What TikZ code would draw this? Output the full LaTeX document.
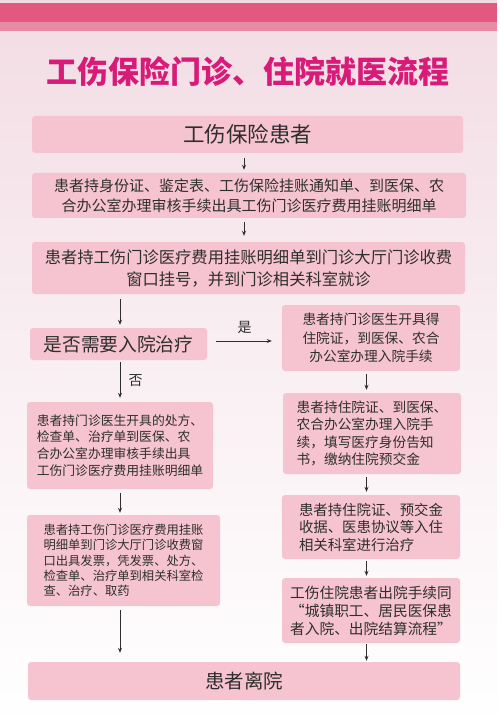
\documentclass[tikz,border=0pt]{standalone}
\usepackage{xcolor}
\usepackage{fontspec}
\setmainfont{Noto Sans CJK SC}
\usepackage{tikz}
\usetikzlibrary{arrows.meta}

\definecolor{rosacaja}{HTML}{F6C4D0}
\definecolor{rosafondo}{HTML}{F2DCE3}
\definecolor{rosabanda}{HTML}{E2587F}
\definecolor{rosaclaro}{HTML}{EA8BA5}
\definecolor{titulo}{HTML}{D81A78}
\definecolor{texto}{HTML}{2E2E2E}

\newcommand{\tam}[2]{\fontsize{#1}{#2}\selectfont}

\begin{document}
\begin{tikzpicture}[x=1pt, y=-1pt,
    caja/.style = {rectangle, rounded corners=3pt, fill=rosacaja, text=texto, inner sep=0pt, align=center},
    flecha/.style = {draw=texto, line width=0.8pt, -{Stealth[length=5pt, width=4pt]}},
    etiqueta/.style = {text=texto, font=\tam{14}{16}}]
            \useasboundingbox (0,0) rectangle (500,727);
            % Fondo
            \fill[white] (0,0) rectangle (500,727);
            \shade[top color=rosafondo, bottom color=white, middle color=rosafondo!45] (0,0) rectangle (497,727);
            \fill[rosabanda] (0,3) rectangle (497,22);
            \fill[rosaclaro] (0,22) rectangle (497,31);
            % Titulo
            \node[text=titulo, font=\tam{31}{34}\bfseries] (tit) at (248,72) {工伤保险门诊、住院就医流程};
            % Columnas de las flechas
            \coordinate (colc) at (244,0);
            \coordinate (coli) at (120,0);
            \coordinate (cold) at (366.5,0);
            % Cajas centrales
            \node[caja, minimum width=431, minimum height=37, font=\tam{21.5}{24}] (pac) at (247.5,134.5) {工伤保险患者};
            \node[caja, minimum width=434, minimum height=45, font=\tam{15}{20}] (cert) at (249,195.5)
                {患者持身份证、鉴定表、工伤保险挂账通知单、到医保、农\\合办公室办理审核手续出具工伤门诊医疗费用挂账明细单};
            \node[caja, minimum width=433, minimum height=52, font=\tam{16.3}{22}] (reg) at (248.5,268)
                {患者持工伤门诊医疗费用挂账明细单到门诊大厅门诊收费\\窗口挂号，并到门诊相关科室就诊};
            % Decision
            \node[caja, minimum width=177, minimum height=32, font=\tam{18.7}{22}] (dec) at (118.5,344) {是否需要入院治疗};
            % Rama izquierda
            \node[caja, minimum width=186, minimum height=87, font=\tam{12.8}{16.8}, align=left] (izq1) at (120,445.5)
                {患者持门诊医生开具的处方、\\检查单、治疗单到医保、农\\合办公室办理审核手续出具\\工伤门诊医疗费用挂账明细单};
            \node[caja, minimum width=193, minimum height=91, font=\tam{12.3}{15.3}, align=left] (izq2) at (123.5,560.5)
                {患者持工伤门诊医疗费用挂账\\明细单到门诊大厅门诊收费窗\\口出具发票，凭发票、处方、\\检查单、治疗单到相关科室检\\查、治疗、取药};
            % Rama derecha
            \node[caja, minimum width=178, minimum height=66, font=\tam{13.7}{18.3}] (der1) at (371,338)
                {患者持门诊医生开具得\\住院证，到医保、农合\\办公室办理入院手续};
            \node[caja, minimum width=178, minimum height=81, font=\tam{13.7}{17.4}, align=left] (der2) at (372,433.5)
                {患者持住院证、到医保、\\农合办公室办理入院手\\续，填写医疗身份告知\\书，缴纳住院预交金};
            \node[caja, minimum width=178, minimum height=64, font=\tam{14.4}{17.5}, align=left] (der3) at (371,527)
                {患者持住院证、预交金\\收据、医患协议等入住\\相关科室进行治疗};
            \node[caja, minimum width=178, minimum height=65, font=\tam{14.7}{18}] (der4) at (371,610.5)
                {工伤住院患者出院手续同\\“城镇职工、居民医保患\\者入院、出院结算流程”};
            % Final
            \node[caja, minimum width=432, minimum height=38, font=\tam{19.5}{22}] (fin) at (244,681) {患者离院};
            % Flechas
            \draw[flecha, shorten <=5pt, shorten >=3pt] (pac.south -| colc) -- (cert.north -| colc);
            \draw[flecha, shorten <=4pt, shorten >=6pt] (cert.south -| colc) -- (reg.north -| colc);
            \draw[flecha, shorten <=5pt, shorten >=3pt] (reg.south -| coli) -- (dec.north -| coli);
            \draw[flecha, shorten <=2pt, shorten >=4pt] (dec.south -| coli) -- node[etiqueta, right=5pt] (no) {否} (izq1.north -| coli);
            \draw[flecha, shorten <=4pt, shorten >=2pt] (izq1.south -| coli) -- (izq2.north -| coli);
            \draw[flecha, shorten <=4pt, shorten >=9pt] (izq2.south -| coli) -- (fin.north -| coli);
            \draw[flecha, shorten <=9pt, shorten >=10pt] ([yshift=3pt]dec.east) -- node[etiqueta, above=4pt] (si) {是} ([yshift=3pt]dec.east -| der1.west);
            \draw[flecha, shorten <=3pt, shorten >=3pt] (der1.south -| cold) -- (der2.north -| cold);
            \draw[flecha, shorten <=3pt, shorten >=3pt] (der2.south -| cold) -- (der3.north -| cold);
            \draw[flecha, shorten <=2pt, shorten >=2pt] (der3.south -| cold) -- (der4.north -| cold);
            \draw[flecha, shorten <=1pt, shorten >=1pt] (der4.south -| cold) -- (fin.north -| cold);
\end{tikzpicture}
\end{document}
